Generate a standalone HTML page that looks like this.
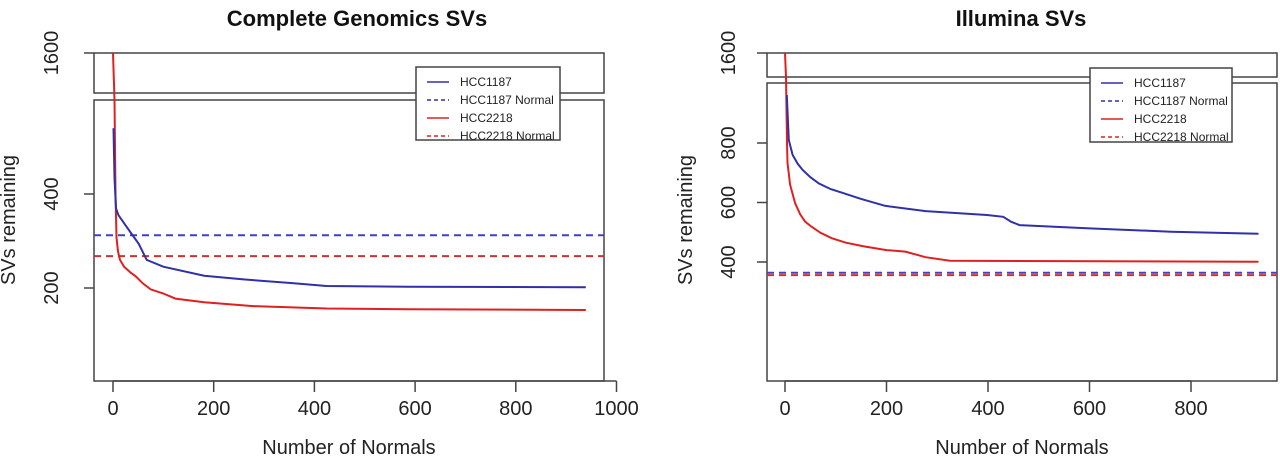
<!DOCTYPE html>
<html><head><meta charset="utf-8"><style>
body{margin:0;background:#fff}
svg{display:block;font-family:"Liberation Sans",sans-serif}
</style></head><body>
<svg id="c" width="1280" height="460" xmlns="http://www.w3.org/2000/svg"></svg>
<script>
// Left panel data
const leftBlueX=[1,3,6,11,27,51,67,100,181,262,359,424,586,939];
const leftBlueY=[650,450,360,342,314,277,246,234,219,213,207,203,202,201];
const leftRedX=[0,3,5,7,10,14,22,35,45,59,75,100,124,181,278,424,586,939];
const leftRedY=[1700,800,400,290,262,246,234,224,218,207,198,192,185,180,175,172,171,170];
const leftNormals=[295,253];
const leftXTicks=[0,200,400,600,800,1000];
const leftYTicks=[200,400,1600];
// Right panel data
const rightBlueX=[3.5,7.5,15,25,35,50,67,90,116,150,197,277,398,430,446,462,600,761,933];
const rightBlueY=[961,810,760,730,709,685,664,645,631,612,589,571,558,552,535,524,513,502,495];
const rightRedX=[0,2,4,5,10,20,30,40,52,70,92,120,157,200,237,277,325,933];
const rightRedY=[1700,1100,800,733,660,598,560,535,519,498,480,465,452,440,435,416,404,401];
const rightNormals=[364,356];
const rightXTicks=[0,200,400,600,800];
const rightYTicks=[400,600,800,1600];
const legendLabels=["HCC1187","HCC1187 Normal","HCC2218","HCC2218 Normal"];

const svg=document.getElementById('c');
const NS='http://www.w3.org/2000/svg';
function mk(tag,attrs,name,parent){const e=document.createElementNS(NS,tag);for(const k in attrs)e.setAttribute(k,attrs[k]);


(parent||svg).appendChild(e);return e;}
function txt(s,attrs,name){const e=mk('text',attrs,name);e.textContent=s;return e;}

function panel(p){
  const g=mk('g',{},p.id+'-panel');
  mk('rect',{x:p.bx0,y:p.top0,width:p.bx1-p.bx0,height:p.top1-p.top0,fill:'none',stroke:'#444','stroke-width':1.5},p.id+'-top-box',g);
  mk('rect',{x:p.bx0,y:p.main0,width:p.bx1-p.bx0,height:p.main1-p.main0,fill:'none',stroke:'#444','stroke-width':1.5},p.id+'-main-box',g);
  const xs=p.xTicks;
  mk('line',{x1:p.sx(xs[0]),x2:p.sx(xs[xs.length-1]),y1:p.main1,y2:p.main1,stroke:'#444','stroke-width':1.5},p.id+'-x-axis',g);
  xs.forEach(v=>{mk('line',{x1:p.sx(v),x2:p.sx(v),y1:p.main1,y2:p.main1+11,stroke:'#444','stroke-width':1.5},p.id+'-x-tick',g);
    txt(String(v),{x:p.sx(v),y:p.main1+34,'text-anchor':'middle','font-size':20,fill:'#222'},p.id+'-x-tick-label');});
  p.yTicks.forEach(v=>{const y=p.sy(v);mk('line',{x1:p.bx0-10,x2:p.bx0,y1:y,y2:y,stroke:'#444','stroke-width':1.5},p.id+'-y-tick',g);
    txt(String(v),{x:p.tickX,y:y,transform:`rotate(-90 ${p.tickX} ${y})`,'text-anchor':'middle','font-size':20,fill:'#222'},p.id+'-y-tick-label');});
  p.normals.forEach((v,i)=>{mk('line',{x1:p.bx0,x2:p.bx1,y1:p.sy(v),y2:p.sy(v),stroke:i?'#d03030':'#4040c0','stroke-width':2,'stroke-dasharray':'7,5'},p.id+(i?'-hcc2218-normal-line':'-hcc1187-normal-line'),g);});
  const path=(X,Y)=>X.map((x,i)=>(i?'L':'M')+p.sx(x).toFixed(1)+','+p.sy(Y[i]).toFixed(1)).join('');
  mk('path',{d:path(p.rx,p.ry),fill:'none',stroke:'#e02020','stroke-width':2},p.id+'-hcc2218-line',g);
  mk('path',{d:path(p.bxs,p.bys),fill:'none',stroke:'#3030a8','stroke-width':2},p.id+'-hcc1187-line',g);
  const L=p.leg;
  mk('rect',{x:L.x,y:L.y,width:L.w,height:L.h,fill:'#fff',stroke:'#444','stroke-width':1.5},p.id+'-legend',g);
  legendLabels.forEach((s,i)=>{const y=L.y+15+i*18;const col=i<2?'#3030a8':'#e02020';
    mk('line',{x1:L.x+11,x2:L.x+33,y1:y,y2:y,stroke:col,'stroke-width':1.5,'stroke-dasharray':i%2?'4,3':'none'},p.id+'-legend-swatch',g);
    txt(s,{x:L.x+44,y:y+4,'font-size':12,fill:'#222'},p.id+'-legend-entry');});
  txt(p.title,{x:p.titleX,y:26,'text-anchor':'middle','font-size':22,'font-weight':'bold',fill:'#111'},p.id+'-title');
  txt('Number of Normals',{x:p.xLabX,y:454,'text-anchor':'middle','font-size':20,fill:'#222'},p.id+'-x-axis-title');
  txt('SVs remaining',{x:p.yLabX,y:220,transform:`rotate(-90 ${p.yLabX} 220)`,'text-anchor':'middle','font-size':20,fill:'#222'},p.id+'-y-axis-title');
}
function leftSy(v){ if(v<=806) return 194-94*Math.log2(v/400);
  if(v<=1100) return 99-(v-806)/(1100-806)*7; return Math.max(53,92-(v-1100)/500*40);}
panel({id:'left',bx0:94,bx1:604,top0:53,top1:93,main0:100,main1:381,
  sx:v=>113+v*0.5035,sy:leftSy,xTicks:leftXTicks,yTicks:leftYTicks,tickX:58,normals:leftNormals,
  rx:leftRedX,ry:leftRedY,bxs:leftBlueX,bys:leftBlueY,leg:{x:416,y:67,w:144,h:73},
  title:'Complete Genomics SVs',titleX:357,xLabX:349,yLabX:15});
function rightSy(v){ if(v<=1002) return 381-v*0.2975;
  if(v<=1100) return 83-(v-1002)/98*6; return Math.max(53,77-(v-1100)/500*24);}
panel({id:'right',bx0:767,bx1:1277,top0:53,top1:77,main0:83,main1:381,
  sx:v=>785+v*0.5075,sy:rightSy,xTicks:rightXTicks,yTicks:rightYTicks,tickX:735,normals:rightNormals,
  rx:rightRedX,ry:rightRedY,bxs:rightBlueX,bys:rightBlueY,leg:{x:1090,y:68,w:142,h:74},
  title:'Illumina SVs',titleX:1021,xLabX:1022,yLabX:692});
</script>
</body></html>
